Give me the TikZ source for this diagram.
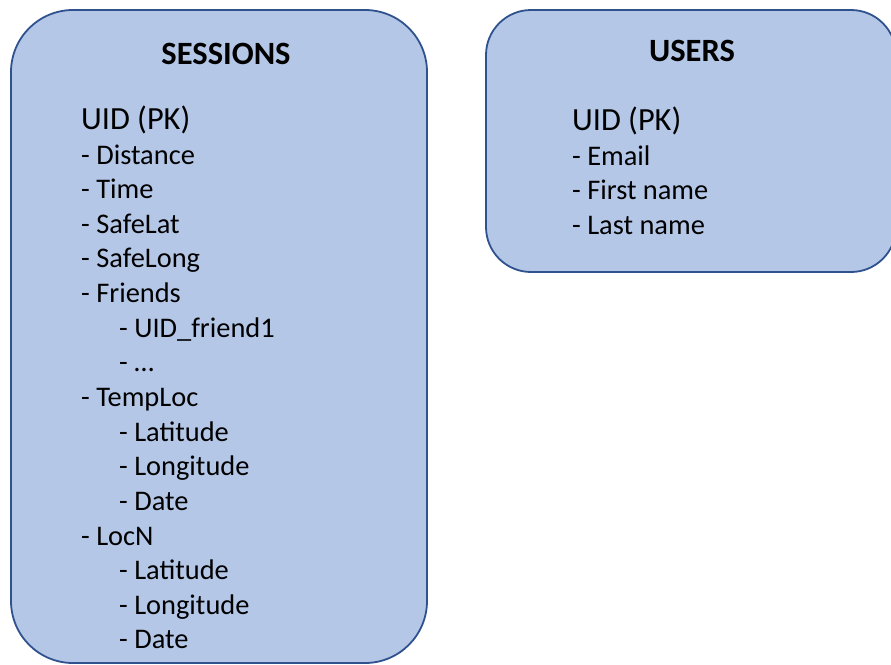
\documentclass[tikz,border=0pt]{standalone}
\usepackage{fontspec}
\setmainfont{Carlito}
\definecolor{boxfill}{HTML}{B4C7E7}
\definecolor{boxline}{HTML}{2F528F}
\begin{document}
\begin{tikzpicture}[x=1pt,y=-1pt,
  tbl/.style={draw=boxline,fill=boxfill,line width=1.8pt},
  ttl/.style={anchor=base,font=\fontsize{32.5}{38}\selectfont\bfseries,inner sep=0pt},
  pk/.style={anchor=base west,font=\fontsize{32.3}{38}\selectfont,inner sep=0pt},
  itm/.style={anchor=base west,font=\fontsize{28.4}{33}\selectfont,inner sep=0pt}]
\useasboundingbox (0,0) rectangle (891,664);
\draw[tbl,rounded corners=62pt] (11,10) rectangle (427,663);
\draw[tbl,rounded corners=45pt] (486,10) rectangle (896,272);
\node[ttl] (st) at (226,64) {SESSIONS};
\node[ttl] (ut) at (692,61) {USERS};
\node[pk] (spk) at (81,129) {UID (PK)};
\node[pk] (upk) at (572,130) {UID (PK)};
\foreach \t [count=\i from 0] in {- Distance,- Time,- SafeLat,- SafeLong,- Friends}
  \node[itm] (s\i) at (81,164+34.64*\i) {\t};
\node[itm] (f1) at (119,164+34.64*5) {- UID\_friend1};
\node[itm] (f2) at (119,164+34.64*6) {- …};
\node[itm] (tl) at (81,164+34.64*7) {- TempLoc};
\node[itm] (tl1) at (119,164+34.64*8) {- Latitude};
\node[itm] (tl2) at (119,164+34.64*9) {- Longitude};
\node[itm] (tl3) at (119,164+34.64*10) {- Date};
\node[itm] (ln) at (81,164+34.64*11) {- LocN};
\node[itm] (ln1) at (119,164+34.64*12) {- Latitude};
\node[itm] (ln2) at (119,164+34.64*13) {- Longitude};
\node[itm] (ln3) at (119,164+34.64*14) {- Date};
\node[itm] (u1) at (572,165) {- Email};
\node[itm] (u2) at (572,199.5) {- First name};
\node[itm] (u3) at (572,234) {- Last name};
\end{tikzpicture}
\end{document}
